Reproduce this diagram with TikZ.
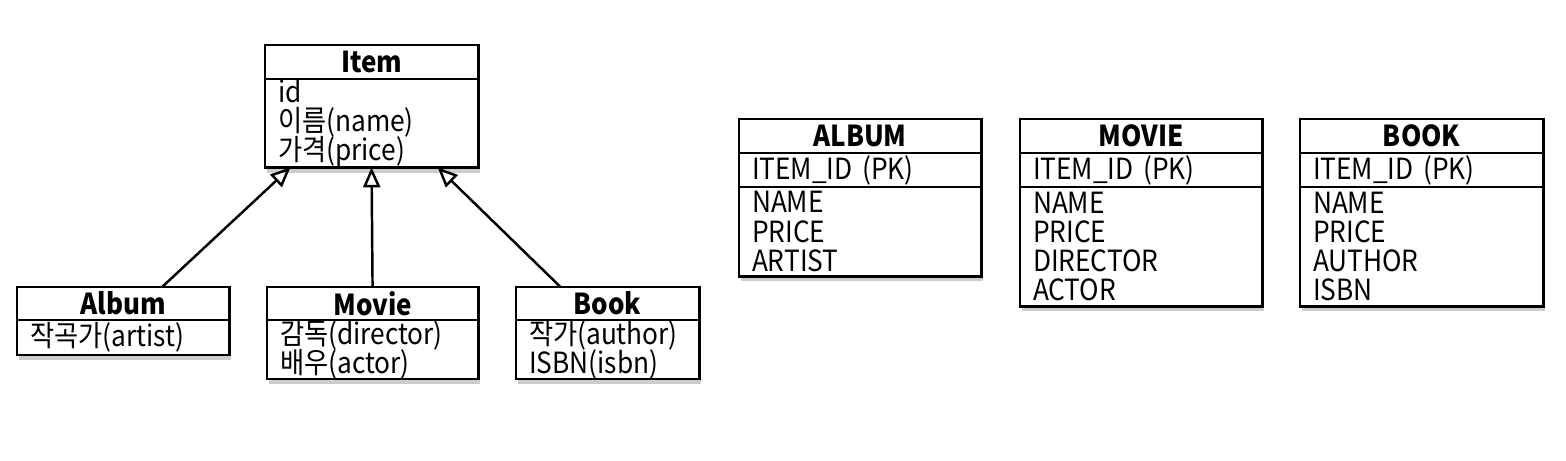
\documentclass[tikz,border=0pt]{standalone}
\usepackage{fontspec}
\setmainfont{Noto Sans CJK KR}[FakeStretch=0.9]
\usetikzlibrary{arrows.meta,positioning,shadows}
\newcommand\bdfont{\fontsize{8.3}{8.3}\selectfont\lineskiplimit=-5pt\relax}
\tikzset{hd/.style={draw, fill=white, line width=0.8pt, outer sep=0pt, inner xsep=0.13cm, inner ysep=0pt,
    align=center, font=\fontsize{8.2}{8.3}\selectfont\bfseries,
    drop shadow={shadow xshift=0.6pt, shadow yshift=-1.5pt, opacity=0.4}}}
\tikzset{bd/.style={hd, align=left, font=\bdfont}}
\tikzset{inh/.style={-{Triangle[open,length=0.2cm,width=0.17cm]}, line width=0.7pt}}

\begin{document}
\begin{tikzpicture}[x=0.01cm,y=-0.01cm]
                \useasboundingbox (0,0) rectangle (1566,460);
                % class diagram
                \node[hd, anchor=north west, text width=1.87cm, minimum height=0.34cm] (item) at (265,45) {Item};
                \node[bd, text width=1.87cm, minimum height=0.87cm, below=0pt of item] (item-b) {id\\이름(name)\\가격(price)};
                \node[hd, anchor=north west, text width=1.86cm, minimum height=0.33cm] (album) at (17,287) {Album};
                \node[bd, text width=1.86cm, minimum height=0.35cm, below=0pt of album] (album-b) {작곡가(artist)};
                \node[hd, anchor=north west, text width=1.85cm, minimum height=0.33cm] (movie) at (267,287) {Movie};
                \node[bd, text width=1.85cm, minimum height=0.58cm, below=0pt of movie] (movie-b) {감독(director)\\배우(actor)};
                \node[hd, anchor=north west, text width=1.57cm, minimum height=0.33cm] (book) at (516,287) {Book};
                \node[bd, text width=1.57cm, minimum height=0.58cm, below=0pt of book] (book-b) {작가(author)\\ISBN(isbn)};
                \draw[inh] ([xshift=0.39cm]album.north) -- ([xshift=-0.81cm]item-b.south);
                \draw[inh] (movie.north) -- (item-b.south);
                \draw[inh] ([xshift=-0.47cm]book.north) -- ([xshift=0.66cm]item-b.south);
                % tables
                \node[hd, anchor=north west, text width=2.16cm, minimum height=0.34cm] (t-album) at (739,119) {ALBUM};
                \node[bd, text width=2.16cm, minimum height=0.34cm, below=0pt of t-album] (t-album-pk) {ITEM\_ID (PK)};
                \node[bd, text width=2.16cm, minimum height=0.89cm, below=0pt of t-album-pk] (t-album-b) {NAME\\PRICE\\ARTIST};
                \node[hd, anchor=north west, text width=2.16cm, minimum height=0.34cm] (t-movie) at (1020,119) {MOVIE};
                \node[bd, text width=2.16cm, minimum height=0.34cm, below=0pt of t-movie] (t-movie-pk) {ITEM\_ID (PK)};
                \node[bd, text width=2.16cm, minimum height=1.19cm, below=0pt of t-movie-pk] (t-movie-b) {NAME\\PRICE\\DIRECTOR\\ACTOR};
                \node[hd, anchor=north west, text width=2.17cm, minimum height=0.34cm] (t-book) at (1300,119) {BOOK};
                \node[bd, text width=2.17cm, minimum height=0.34cm, below=0pt of t-book] (t-book-pk) {ITEM\_ID (PK)};
                \node[bd, text width=2.17cm, minimum height=1.19cm, below=0pt of t-book-pk] (t-book-b) {NAME\\PRICE\\AUTHOR\\ISBN};
\end{tikzpicture}
\end{document}
